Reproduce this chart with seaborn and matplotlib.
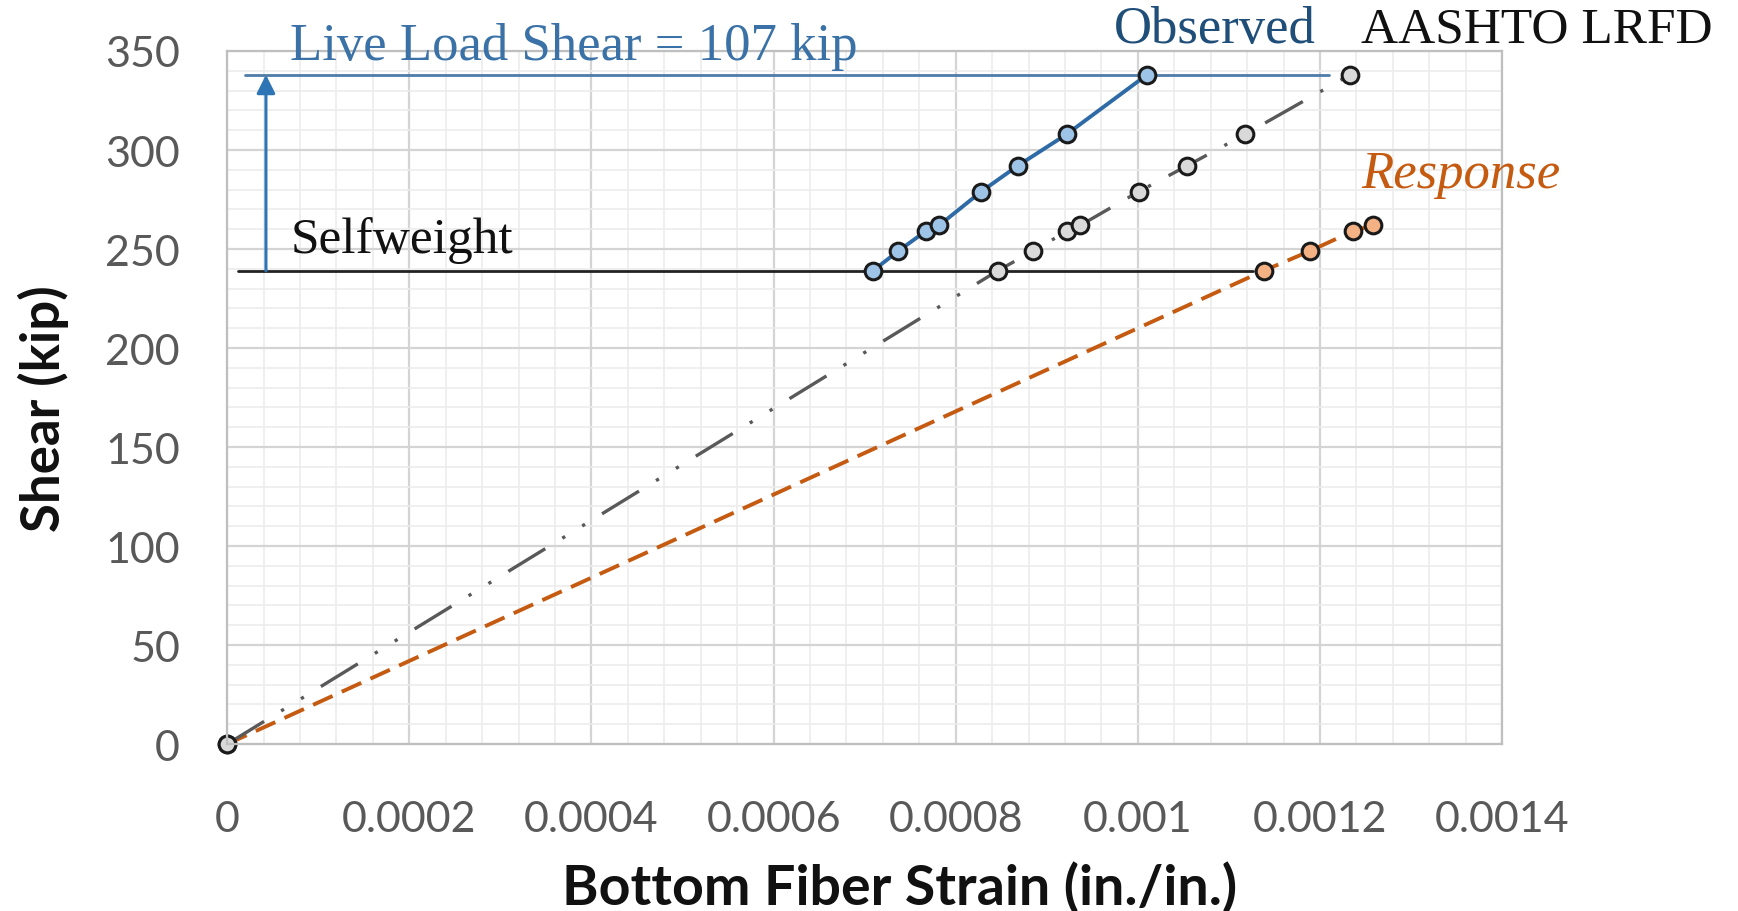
import matplotlib
matplotlib.use("Agg")
import matplotlib.pyplot as plt
import seaborn as sns

# Data
strain_obs = [0.000709, 0.000737, 0.000767, 0.000782, 0.000828, 0.000868, 0.000922, 0.001010]
shear_obs = [239, 249, 259, 262, 279, 292, 308, 338]

strain_aashto = [0, 0.000846, 0.000885, 0.000922, 0.000937, 0.001001, 0.001054, 0.001118, 0.001233]
shear_aashto = [0, 239, 249, 259, 262, 279, 292, 308, 338]

strain_resp = [0, 0.001138, 0.001189, 0.001236, 0.001258]
shear_resp = [0, 239, 249, 259, 262]

selfweight = 239
live_top = 338

x_ticks = [0, 0.0002, 0.0004, 0.0006, 0.0008, 0.001, 0.0012, 0.0014]
x_labels = ["0", "0.0002", "0.0004", "0.0006", "0.0008", "0.001", "0.0012", "0.0014"]
y_ticks = [0, 50, 100, 150, 200, 250, 300, 350]

sns.set_theme(style="white")
plt.rcParams["font.family"] = ["Lato", "DejaVu Sans"]

fig = plt.figure(figsize=(17.38, 9.12), dpi=100)
ax = fig.add_axes([0.1307, 0.183, 0.7336, 0.760])

# gridlines: major + minor
ax.set_xticks(x_ticks)
ax.set_xticklabels(x_labels)
ax.set_yticks(y_ticks)
ax.set_xticks([i * 0.00004 for i in range(36)], minor=True)
ax.set_yticks(list(range(0, 351, 10)), minor=True)
ax.grid(which="major", color="#d4d4d4", lw=1.6)
ax.grid(which="minor", color="#ececec", lw=1.2)
ax.set_axisbelow(True)
ax.set_xlim(0, 0.0014)
ax.set_ylim(0, 350)
for s in ax.spines.values():
    s.set_color("#bfbfbf")
    s.set_linewidth(1.6)

ax.tick_params(which="both", length=0)
ax.tick_params(axis="y", pad=34, labelsize=31, labelcolor="#595959")
ax.tick_params(axis="x", pad=40, labelsize=31, labelcolor="#595959")

# reference lines (selfweight / live load)
ax.plot([0.000012, 0.001126], [selfweight, selfweight], color="#222222", lw=2, clip_on=False)
ax.plot([0.00002, 0.00121], [live_top, live_top], color="#4f7ca8", lw=2, clip_on=False)
ax.annotate("", xy=(0.0000426, live_top), xytext=(0.0000426, selfweight),
            arrowprops=dict(arrowstyle="-|>", color="#2e75b6", lw=2.2,
                            mutation_scale=28, shrinkA=0, shrinkB=0))

# Response (orange dashed)
sns.lineplot(x=strain_resp, y=shear_resp, ax=ax, sort=False, estimator=None,
             color="#c55a11", lw=2.8, linestyle=(0, (5.5, 2.6)),
             marker="o", markersize=12, markerfacecolor="#f4b183",
             markeredgecolor="#1a1a1a", markeredgewidth=2.2, clip_on=False)

# AASHTO LRFD (grey long-dash-dot-dot)
sns.lineplot(x=strain_aashto, y=shear_aashto, ax=ax, sort=False, estimator=None,
             color="#595959", lw=2.4, linestyle=(0, (13, 6, 1, 6, 1, 6)),
             marker="o", markersize=12, markerfacecolor="#d9d9d9",
             markeredgecolor="#1a1a1a", markeredgewidth=2.2, clip_on=False)

# Observed (blue solid)
sns.lineplot(x=strain_obs, y=shear_obs, ax=ax, sort=False, estimator=None,
             color="#2e6aa6", lw=2.8,
             marker="o", markersize=12, markerfacecolor="#9dc3e6",
             markeredgecolor="#1a1a1a", markeredgewidth=2.2, clip_on=False)

serif = ["Liberation Serif", "DejaVu Serif"]
ax.text(0.0000694, 352.5, "Live Load Shear = 107 kip", color="#3a72a8",
        fontsize=38, family=serif, va="center", ha="left", clip_on=False)
ax.text(0.0000694, 255, "Selfweight", color="#111111",
        fontsize=37, family=serif, va="center", ha="left")
ax.text(0.000974, 361, "Observed", color="#1f4e79",
        fontsize=38, family=serif, va="center", ha="left", clip_on=False)
ax.text(0.001245, 361, "AASHTO LRFD", color="#111111",
        fontsize=37, family=serif, va="center", ha="left", clip_on=False)
ax.text(0.001245, 288, "Response", color="#c55a11", style="italic",
        fontsize=38, family=serif, va="center", ha="left", clip_on=False)

ax.set_xlabel("Bottom Fiber Strain (in./in.)", fontsize=40, fontweight="bold",
              color="#111111")
ax.set_ylabel("Shear (kip)", fontsize=38, fontweight="bold", color="#111111")
ax.xaxis.set_label_coords(0.527, -0.168)
ax.yaxis.set_label_coords(-0.124, 0.486)

fig.savefig("out.png", dpi=100)
